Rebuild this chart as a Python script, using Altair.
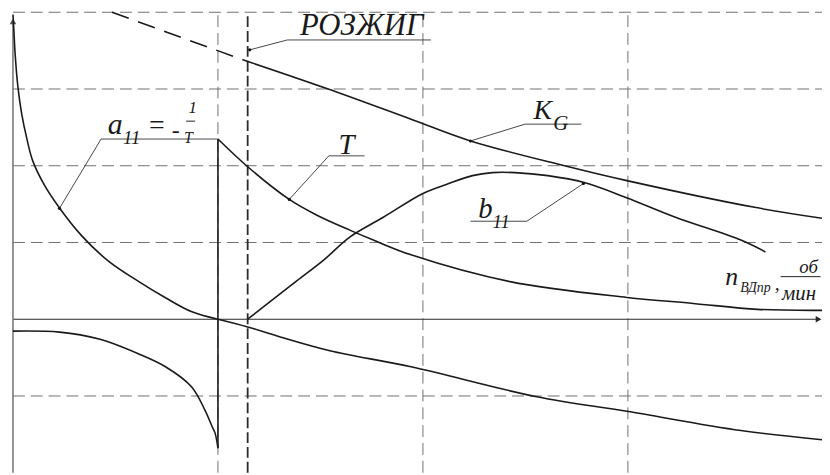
import altair as alt
import pandas as pd

# ---- curve data (x: grid units of n, y: grid units) ----
a11_left_x = [0.0, 0.005, 0.01, 0.024, 0.043, 0.068, 0.097, 0.155, 0.227, 0.338, 0.469, 0.614, 0.744, 0.870, 1.0]
a11_left_y = [3.97, 3.74, 3.48, 3.03, 2.67, 2.35, 2.06, 1.74, 1.45, 1.08, 0.75, 0.49, 0.28, 0.10, 0.0]
a11_low_x = [0.0, 0.227, 0.42, 0.614, 0.744, 0.870, 0.937, 0.971, 0.986, 1.0]
a11_low_y = [-0.155, -0.168, -0.258, -0.452, -0.619, -0.877, -1.187, -1.394, -1.484, -1.680]
a11_right_x = [1.0, 1.145, 1.304, 1.546, 1.942, 2.556, 2.995, 3.551, 3.947]
a11_right_y = [0.0, -0.10, -0.23, -0.41, -0.62, -1.01, -1.20, -1.45, -1.57]
T_x = [1.0, 1.145, 1.348, 1.483, 1.643, 1.758, 1.942, 2.425, 2.995, 3.319, 3.633, 3.947]
T_y = [2.348, 1.987, 1.561, 1.355, 1.161, 1.032, 0.839, 0.490, 0.284, 0.206, 0.129, 0.116]
b11_x = [1.145, 1.256, 1.386, 1.517, 1.643, 1.807, 2.0, 2.126, 2.242, 2.338, 2.449, 2.609, 2.787, 2.990, 3.232, 3.551, 3.671]
b11_y = [0.0, 0.232, 0.503, 0.774, 1.071, 1.329, 1.639, 1.768, 1.871, 1.910, 1.910, 1.871, 1.781, 1.587, 1.329, 1.032, 0.877]
KG_dash_x = [0.483, 1.121]
KG_dash_y = [4.0, 3.381]
KG_x = [1.121, 1.531, 1.942, 2.232, 2.691, 2.995, 3.618, 3.947]
KG_y = [3.381, 3.006, 2.606, 2.323, 2.0, 1.806, 1.458, 1.316]

# jump of a11 at n = 1
jump_x = 1.0
jump_y0, jump_y1 = -1.680, 2.348

# grid / reference lines
grid_h = [4, 3, 2, 1, -1]
grid_v = [1, 2, 3]
ignition_x = 1.145
x_min, x_max = -0.0242, 3.9469
y_min, y_max = -2.0, 4.0258

# leaders (label callouts)
leader_names = ["a11", "T", "KG", "b11", "ign"]
leader_x = [[0.227, 0.430, 1.0], [1.348, 1.541, 1.715], [2.232, 2.498, 2.773], [2.783, 2.507, 2.232], [1.155, 1.338, 2.039]]
leader_y = [[1.445, 2.348, 2.348], [1.561, 2.129, 2.129], [2.323, 2.542, 2.542], [1.768, 1.277, 1.277], [3.510, 3.639, 3.639]]

# texts
txt = ["РОЗЖИГ", "K", "G", "T", "b", "11", "a", "11", "=", "-", "1", "T",
       "n", "ВДпр", ",", "об", "мин"]
txt_x = [1.400, 2.540, 2.636, 1.588, 2.270, 2.340, 0.462, 0.537, 0.655, 0.775, 0.856, 0.834,
         3.475, 3.548, 3.716, 3.836, 3.752]
txt_y = [3.703, 2.606, 2.465, 2.155, 1.316, 1.187, 2.413, 2.284, 2.413, 2.361, 2.684, 2.297,
         0.452, 0.361, 0.387, 0.606, 0.245]
txt_size = [31, 28, 21, 29, 29, 19, 30, 19, 28, 24, 17, 16, 26, 14, 20, 19, 21]

# fraction bars
frac_x0 = [0.845, 3.745]
frac_x1 = [0.889, 3.940]
frac_y = [2.581, 0.555]

# ---- build tables ----
rows = []
for name, xs_, ys_ in [("a11_left", a11_left_x, a11_left_y), ("a11_low", a11_low_x, a11_low_y),
                       ("a11_right", a11_right_x, a11_right_y), ("T", T_x, T_y),
                       ("b11", b11_x, b11_y), ("KG", KG_x, KG_y)]:
    for i, (a, b) in enumerate(zip(xs_, ys_)):
        rows.append({"series": name, "i": i, "x": a, "y": b})
curve_df = pd.DataFrame(rows)
kgd_df = pd.DataFrame({"x": KG_dash_x, "y": KG_dash_y})

lrows = []
for n, lx, ly in zip(leader_names, leader_x, leader_y):
    for i, (a, b) in enumerate(zip(lx, ly)):
        lrows.append({"series": n, "i": i, "x": a, "y": b})
leader_df = pd.DataFrame(lrows)
marker_df = pd.DataFrame({"x": [lx[0] for lx in leader_x], "y": [ly[0] for ly in leader_y]})

gh_df = pd.DataFrame({"y": grid_h, "x0": [0.0] * len(grid_h), "x1": [x_max] * len(grid_h)})
gv_df = pd.DataFrame({"x": grid_v, "y0": [y_min] * len(grid_v), "y1": [4.0] * len(grid_v)})
ign_df = pd.DataFrame({"x": [ignition_x], "y0": [y_min], "y1": [4.0]})
jump_df = pd.DataFrame({"x": [jump_x], "y0": [jump_y0], "y1": [jump_y1]})
xaxis_df = pd.DataFrame({"y": [0.0], "x0": [0.0], "x1": [3.93]})
yaxis_df = pd.DataFrame({"x": [0.0], "y0": [y_min], "y1": [3.88]})
arr_r_df = pd.DataFrame({"x": [3.93], "y": [0.0]})
arr_u_df = pd.DataFrame({"x": [0.0], "y": [3.88]})
txt_df = pd.DataFrame({"t": txt, "x": txt_x, "y": txt_y, "s": txt_size})
frac_df = pd.DataFrame({"x0": frac_x0, "x1": frac_x1, "y": frac_y})

xs = alt.Scale(domain=[x_min, x_max], nice=False, zero=False)
ys = alt.Scale(domain=[y_min, y_max], nice=False, zero=False)

SERIF = "'Liberation Serif', 'Times New Roman', 'DejaVu Serif', serif"


def X(f):
    return alt.X(f + ":Q", scale=xs, axis=None)


def Y(f):
    return alt.Y(f + ":Q", scale=ys, axis=None)


grid_h_l = alt.Chart(gh_df).mark_rule(color="#707070", strokeWidth=1, strokeDash=[12, 6]).encode(
    x=X("x0"), x2="x1", y=Y("y"))
grid_v_l = alt.Chart(gv_df).mark_rule(color="#707070", strokeWidth=1, strokeDash=[12, 6]).encode(
    x=X("x"), y=Y("y0"), y2="y1")
ign_l = alt.Chart(ign_df).mark_rule(color="#2a2a2a", strokeWidth=1.8, strokeDash=[11, 4]).encode(
    x=X("x"), y=Y("y0"), y2="y1")
xaxis_l = alt.Chart(xaxis_df).mark_rule(color="#2a2a2a", strokeWidth=1.2).encode(
    x=X("x0"), x2="x1", y=Y("y"))
yaxis_l = alt.Chart(yaxis_df).mark_rule(color="#7a7a7a", strokeWidth=1.6).encode(
    x=X("x"), y=Y("y0"), y2="y1")
arr_r = alt.Chart(arr_r_df).mark_point(shape="triangle-right", filled=True, size=45, color="#2a2a2a", opacity=1).encode(
    x=X("x"), y=Y("y"))
arr_u = alt.Chart(arr_u_df).mark_point(shape="triangle-up", filled=True, size=45, color="#555", opacity=1).encode(
    x=X("x"), y=Y("y"))
jump_l = alt.Chart(jump_df).mark_rule(color="#1a1a1a", strokeWidth=1.6).encode(
    x=X("x"), y=Y("y0"), y2="y1")
curves_l = alt.Chart(curve_df).mark_line(color="#1a1a1a", strokeWidth=1.6, interpolate="catmull-rom").encode(
    x=X("x"), y=Y("y"), detail="series:N", order="i:Q")
kgd_l = alt.Chart(kgd_df).mark_line(color="#1a1a1a", strokeWidth=1.6, strokeDash=[18, 10]).encode(
    x=X("x"), y=Y("y"))
leader_l = alt.Chart(leader_df).mark_line(color="#333", strokeWidth=0.9).encode(
    x=X("x"), y=Y("y"), detail="series:N", order="i:Q")
marker_l = alt.Chart(marker_df).mark_point(shape="circle", filled=True, size=10, color="#111", opacity=1).encode(
    x=X("x"), y=Y("y"))
frac_l = alt.Chart(frac_df).mark_rule(color="#222", strokeWidth=1).encode(
    x=X("x0"), x2="x1", y=Y("y"))
text_l = alt.Chart(txt_df).mark_text(font=SERIF, fontStyle="italic", align="left",
                                      baseline="alphabetic", color="#1a1a1a").encode(
    x=X("x"), y=Y("y"), text="t:N", size=alt.Size("s:Q", scale=None, legend=None))

chart = alt.layer(grid_h_l, grid_v_l, ign_l, xaxis_l, yaxis_l, arr_r, arr_u, jump_l, curves_l, kgd_l,
                  leader_l, marker_l, frac_l, text_l).properties(
    width=822, height=467, padding=0, autosize="none", background="white"
).configure_view(stroke=None)

chart.save("out.html", embed_options={"renderer": "svg", "actions": False})
